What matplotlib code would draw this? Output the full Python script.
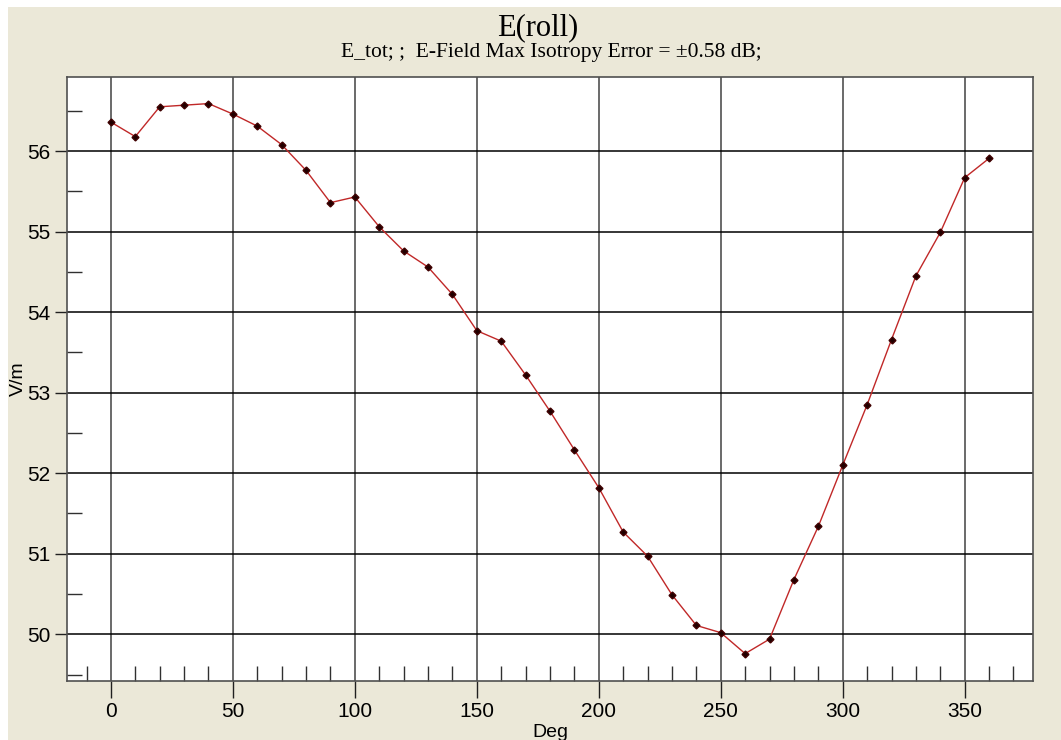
import matplotlib
matplotlib.use('Agg')
import matplotlib.pyplot as plt
from matplotlib.patches import Rectangle
from matplotlib.ticker import MultipleLocator

# roll angle [deg] and total E-field [V/m]
deg = [0, 10, 20, 30, 40, 50, 60, 70, 80, 90,
       100, 110, 120, 130, 140, 150, 160, 170, 180, 190,
       200, 210, 220, 230, 240, 250, 260, 270, 280, 290,
       300, 310, 320, 330, 340, 350, 360]
e_tot = [56.36, 56.18, 56.55, 56.57, 56.59, 56.46, 56.31, 56.08, 55.76, 55.36,
         55.43, 55.06, 54.76, 54.56, 54.22, 53.77, 53.64, 53.22, 52.77, 52.29,
         51.82, 51.27, 50.97, 50.49, 50.11, 50.02, 49.76, 49.94, 50.68, 51.34,
         52.10, 52.85, 53.66, 54.45, 54.99, 55.67, 55.91]

title = 'E(roll)'
subtitle = 'E_tot; ;  E-Field Max Isotropy Error = \u00b10.58 dB;'

W, H = 1061, 740
bg = '#ebe8d8'

fig = plt.figure(figsize=(W/100, H/100), dpi=100, facecolor='white')
fig.patches.append(Rectangle((8/W, 0), 1, 1 - 7/H, transform=fig.transFigure,
                             facecolor=bg, edgecolor='none', zorder=-10))

ax = fig.add_axes([67/W, 1 - 681/H, (1033-67)/W, (681-77)/H])
ax.set_facecolor('white')

ax.plot(deg, e_tot, color='#c02828', lw=1.0, zorder=3)
ax.plot(deg, e_tot, ls='none', marker='D', ms=3.5, mfc='#200000', mec='#400000', zorder=4)

ax.set_xlim(-18, 378)
ax.set_ylim(49.42, 56.92)

ax.xaxis.set_major_locator(MultipleLocator(50))
ax.xaxis.set_minor_locator(MultipleLocator(10))
ax.yaxis.set_major_locator(MultipleLocator(1))
ax.yaxis.set_minor_locator(MultipleLocator(0.5))

ax.tick_params(which='major', direction='out', length=12, width=1, color='#202020',
               labelsize=15, pad=3)
ax.tick_params(axis='y', which='major', length=9)
ax.tick_params(which='minor', direction='in', length=11, width=1, color='#303030')
for lab in ax.get_xticklabels() + ax.get_yticklabels():
    lab.set_fontfamily('Liberation Sans')

ax.grid(True, axis='x', which='major', color='#505050', lw=1.2)
ax.grid(True, axis='y', which='major', color='black', lw=1.1)
ax.set_axisbelow(True)
for s in ax.spines.values():
    s.set_color('#505050')
    s.set_linewidth(1.2)

ax.set_xlabel('Deg', fontsize=14, family='Liberation Sans', labelpad=2)
ax.set_ylabel('V/m', fontsize=14, family='Liberation Sans', labelpad=0)
ax.yaxis.set_label_coords(-40/(1033-67), 0.5)

fig.text(538/W, 1 - 35/H, title, fontsize=22, family='Liberation Serif',
         ha='center', va='baseline')
fig.text(551/W, 1 - 57/H, subtitle, fontsize=15.5, family='Liberation Serif',
         ha='center', va='baseline')

fig.savefig('out.png', dpi=100, facecolor=fig.get_facecolor())
